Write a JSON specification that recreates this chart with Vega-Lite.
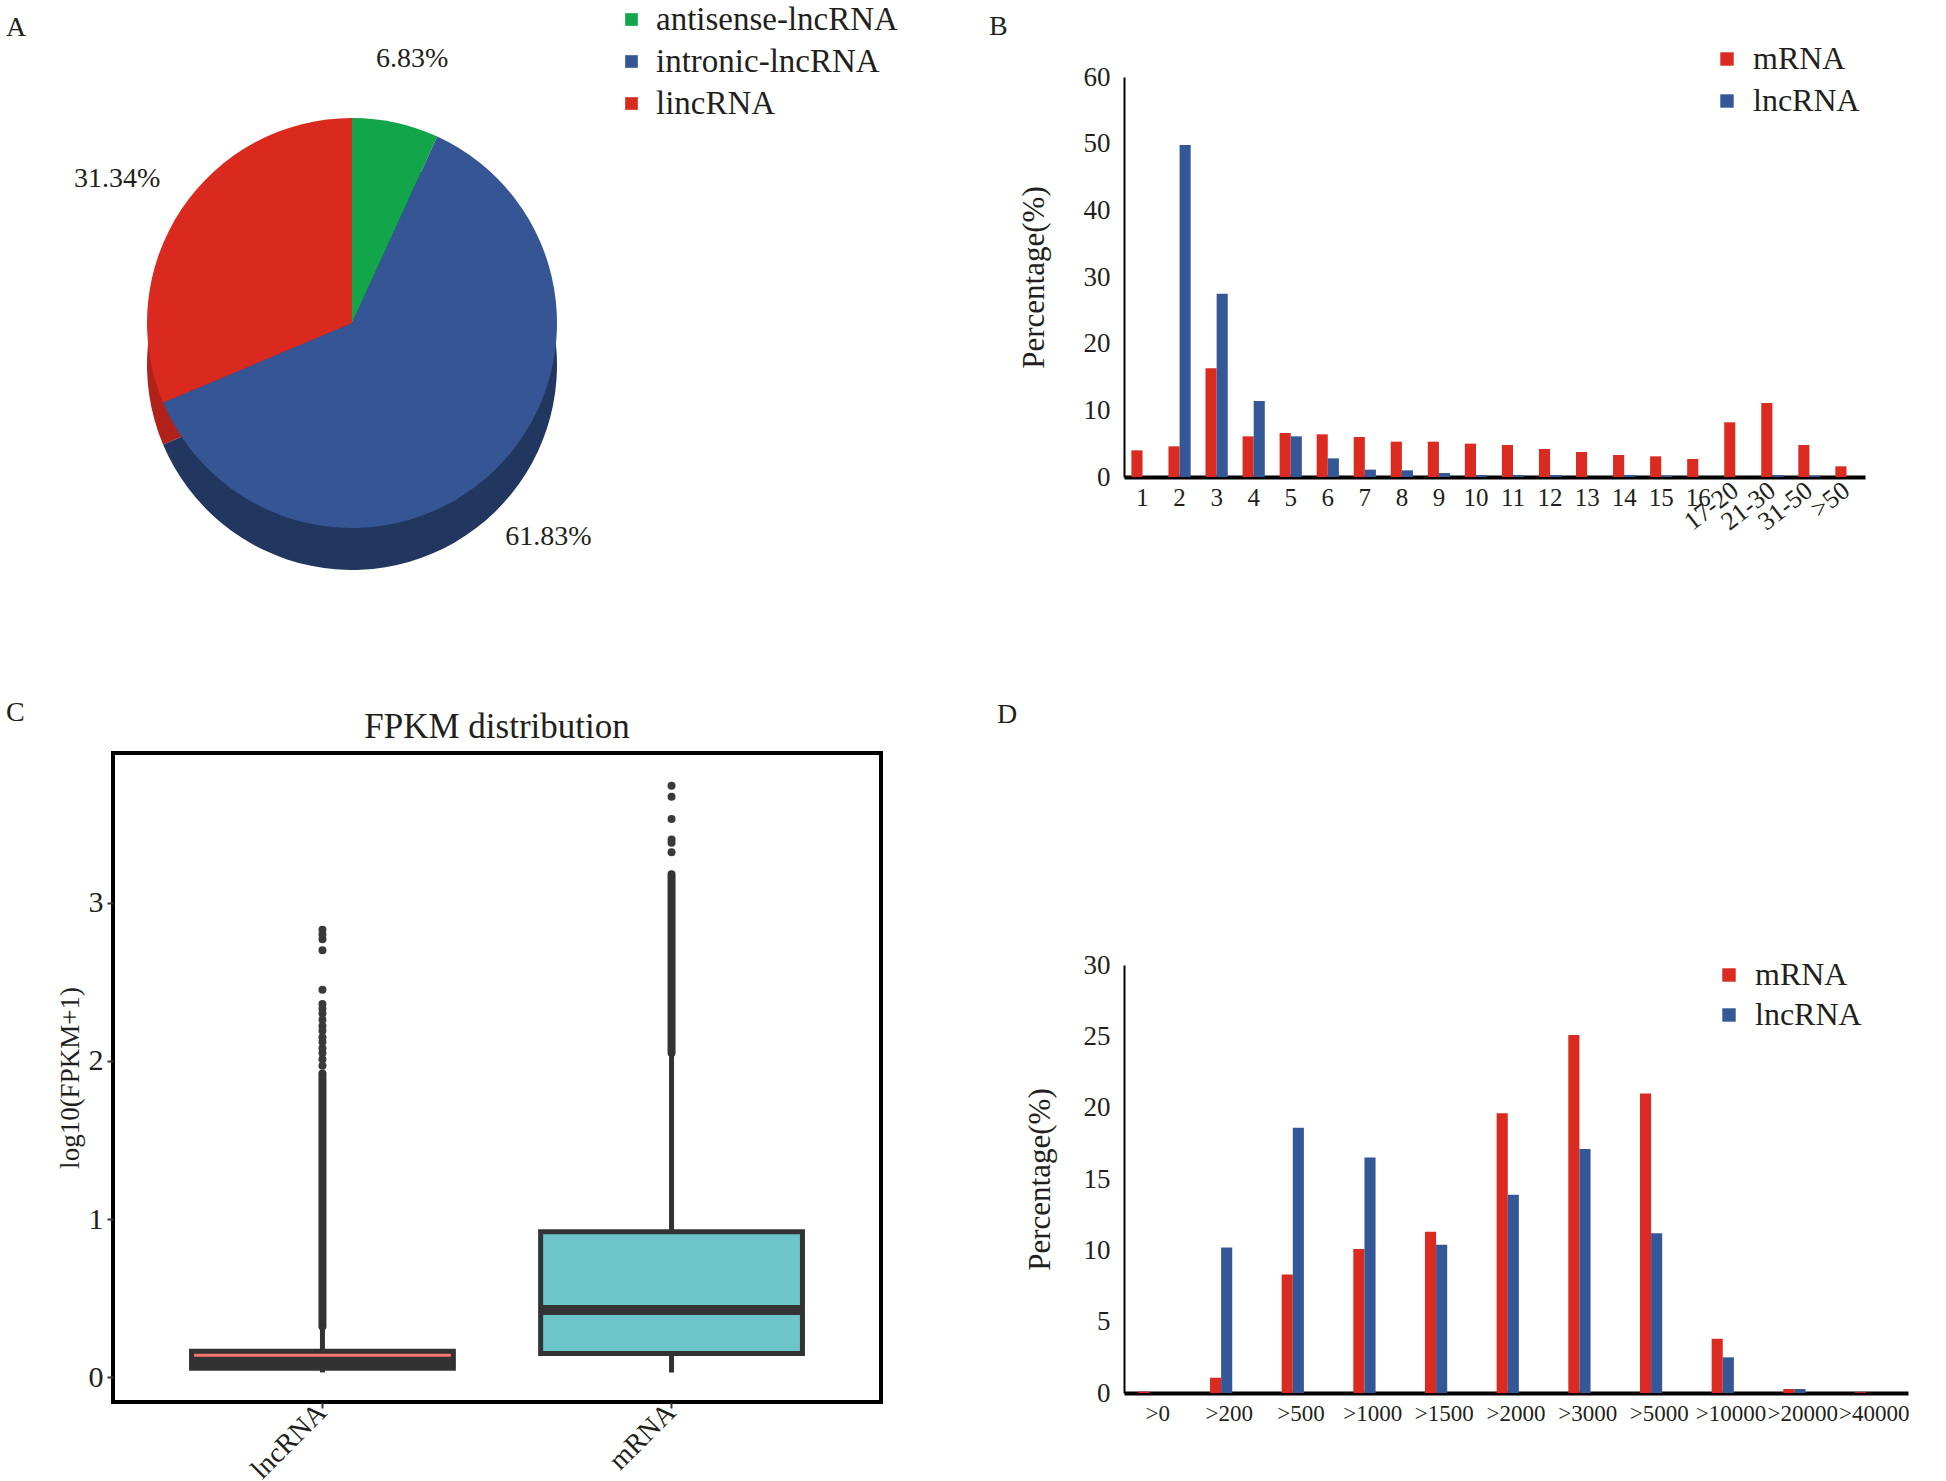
{
  "$schema": "https://vega.github.io/schema/vega-lite/v6.json",
  "background": "white",
  "padding": {"left": 6, "top": 3, "right": 0, "bottom": 0},
  "datasets": {
    "pie": [
      {"category": "antisense-lncRNA", "pct": 6.83, "label": "6.83%"},
      {"category": "intronic-lncRNA", "pct": 61.83, "label": "61.83%"},
      {"category": "lincRNA", "pct": 31.34, "label": "31.34%"}
    ],
    "exon": [
      {"exons": "1", "type": "mRNA", "pct": 4.0}, {"exons": "1", "type": "lncRNA", "pct": 0},
      {"exons": "2", "type": "mRNA", "pct": 4.6}, {"exons": "2", "type": "lncRNA", "pct": 49.8},
      {"exons": "3", "type": "mRNA", "pct": 16.3}, {"exons": "3", "type": "lncRNA", "pct": 27.5},
      {"exons": "4", "type": "mRNA", "pct": 6.1}, {"exons": "4", "type": "lncRNA", "pct": 11.4},
      {"exons": "5", "type": "mRNA", "pct": 6.6}, {"exons": "5", "type": "lncRNA", "pct": 6.1},
      {"exons": "6", "type": "mRNA", "pct": 6.4}, {"exons": "6", "type": "lncRNA", "pct": 2.8},
      {"exons": "7", "type": "mRNA", "pct": 6.0}, {"exons": "7", "type": "lncRNA", "pct": 1.1},
      {"exons": "8", "type": "mRNA", "pct": 5.3}, {"exons": "8", "type": "lncRNA", "pct": 1.0},
      {"exons": "9", "type": "mRNA", "pct": 5.3}, {"exons": "9", "type": "lncRNA", "pct": 0.6},
      {"exons": "10", "type": "mRNA", "pct": 5.0}, {"exons": "10", "type": "lncRNA", "pct": 0.3},
      {"exons": "11", "type": "mRNA", "pct": 4.8}, {"exons": "11", "type": "lncRNA", "pct": 0.3},
      {"exons": "12", "type": "mRNA", "pct": 4.2}, {"exons": "12", "type": "lncRNA", "pct": 0.3},
      {"exons": "13", "type": "mRNA", "pct": 3.75}, {"exons": "13", "type": "lncRNA", "pct": 0},
      {"exons": "14", "type": "mRNA", "pct": 3.3}, {"exons": "14", "type": "lncRNA", "pct": 0.3},
      {"exons": "15", "type": "mRNA", "pct": 3.1}, {"exons": "15", "type": "lncRNA", "pct": 0.2},
      {"exons": "16", "type": "mRNA", "pct": 2.7}, {"exons": "16", "type": "lncRNA", "pct": 0},
      {"exons": "17-20", "type": "mRNA", "pct": 8.2}, {"exons": "17-20", "type": "lncRNA", "pct": 0},
      {"exons": "21-30", "type": "mRNA", "pct": 11.1}, {"exons": "21-30", "type": "lncRNA", "pct": 0.3},
      {"exons": "31-50", "type": "mRNA", "pct": 4.8}, {"exons": "31-50", "type": "lncRNA", "pct": 0.2},
      {"exons": ">50", "type": "mRNA", "pct": 1.6}, {"exons": ">50", "type": "lncRNA", "pct": 0}
    ],
    "length": [
      {"length": ">0", "type": "mRNA", "pct": 0.1}, {"length": ">0", "type": "lncRNA", "pct": 0},
      {"length": ">200", "type": "mRNA", "pct": 1.07}, {"length": ">200", "type": "lncRNA", "pct": 10.2},
      {"length": ">500", "type": "mRNA", "pct": 8.3}, {"length": ">500", "type": "lncRNA", "pct": 18.6},
      {"length": ">1000", "type": "mRNA", "pct": 10.1}, {"length": ">1000", "type": "lncRNA", "pct": 16.5},
      {"length": ">1500", "type": "mRNA", "pct": 11.3}, {"length": ">1500", "type": "lncRNA", "pct": 10.4},
      {"length": ">2000", "type": "mRNA", "pct": 19.6}, {"length": ">2000", "type": "lncRNA", "pct": 13.9},
      {"length": ">3000", "type": "mRNA", "pct": 25.1}, {"length": ">3000", "type": "lncRNA", "pct": 17.1},
      {"length": ">5000", "type": "mRNA", "pct": 21.0}, {"length": ">5000", "type": "lncRNA", "pct": 11.2},
      {"length": ">10000", "type": "mRNA", "pct": 3.8}, {"length": ">10000", "type": "lncRNA", "pct": 2.5},
      {"length": ">20000", "type": "mRNA", "pct": 0.28}, {"length": ">20000", "type": "lncRNA", "pct": 0.28},
      {"length": ">40000", "type": "mRNA", "pct": 0.06}, {"length": ">40000", "type": "lncRNA", "pct": 0}
    ],
    "box": [
      {"type": "lncRNA", "lower": 0.03, "q1": 0.057, "median": 0.097, "q3": 0.164, "upper": 0.32},
      {"type": "mRNA", "lower": 0.03, "q1": 0.15, "median": 0.425, "q3": 0.92, "upper": 2.05}
    ],
    "dense": [
      {"type": "lncRNA", "from": 0.32, "to": 1.92},
      {"type": "mRNA", "from": 2.05, "to": 3.18}
    ],
    "outliers": [
      {"type": "lncRNA", "value": 2.83}, {"type": "lncRNA", "value": 2.8}, {"type": "lncRNA", "value": 2.77},
      {"type": "lncRNA", "value": 2.7}, {"type": "lncRNA", "value": 2.45}, {"type": "lncRNA", "value": 2.36},
      {"type": "lncRNA", "value": 2.33}, {"type": "lncRNA", "value": 2.3}, {"type": "lncRNA", "value": 2.26},
      {"type": "lncRNA", "value": 2.22}, {"type": "lncRNA", "value": 2.19}, {"type": "lncRNA", "value": 2.15},
      {"type": "lncRNA", "value": 2.12}, {"type": "lncRNA", "value": 2.08}, {"type": "lncRNA", "value": 2.05},
      {"type": "lncRNA", "value": 2.01}, {"type": "lncRNA", "value": 1.97},
      {"type": "mRNA", "value": 3.74}, {"type": "mRNA", "value": 3.67}, {"type": "mRNA", "value": 3.53},
      {"type": "mRNA", "value": 3.4}, {"type": "mRNA", "value": 3.38}, {"type": "mRNA", "value": 3.32}
    ]
  },
  "bounds": "flush",
  "spacing": 1011,
  "resolve": {"scale": {"color": "independent", "x": "independent", "y": "independent", "theta": "independent", "fill": "independent"}, "legend": {"color": "independent"}},
  "hconcat": [
    {
      "bounds": "flush",
      "spacing": 184,
      "resolve": {"scale": {"color": "independent", "x": "independent", "y": "independent"}, "legend": {"color": "independent"}},
      "vconcat": [
        {
          "width": 478,
          "height": 492,
          "title": {"text": "A", "anchor": "start", "frame": "group", "dx": -107, "offset": -39, "fontSize": 28},
          "data": {"name": "pie"},
          "resolve": {"scale": {"fill": "independent"}},
          "layer": [
            {
              "mark": {"type": "arc", "radius": 205, "yOffset": 42},
              "encoding": {
                "theta": {"field": "pct", "type": "quantitative", "stack": true},
                "fill": {
                  "field": "category", "type": "nominal",
                  "scale": {"domain": ["antisense-lncRNA", "intronic-lncRNA", "lincRNA"], "range": ["#0C6E33", "#22375F", "#B0221A"]},
                  "legend": null
                },
                "order": {"field": "category", "type": "ordinal", "sort": "ascending"}
              }
            },
            {
              "mark": {"type": "arc", "radius": 205},
              "encoding": {
                "theta": {"field": "pct", "type": "quantitative", "stack": true},
                "color": {
                  "field": "category", "type": "nominal",
                  "scale": {"domain": ["antisense-lncRNA", "intronic-lncRNA", "lincRNA"], "range": ["#13A54A", "#355594", "#DA291F"]},
                  "legend": {"title": null, "orient": "none", "legendX": 502, "legendY": -74, "labelFontSize": 33, "symbolType": "square", "symbolSize": 160, "rowPadding": 8, "labelOffset": 8}
                },
                "order": {"field": "category", "type": "ordinal", "sort": "ascending"}
              }
            },
            {
              "mark": {"type": "text", "radius": 282, "yOffset": 12, "fontSize": 28, "color": "#231f20"},
              "encoding": {
                "theta": {"field": "pct", "type": "quantitative", "stack": true},
                "text": {"field": "label", "type": "nominal"},
                "order": {"field": "category", "type": "ordinal", "sort": "ascending"}
              }
            }
          ]
        },
        {
          "bounds": "flush",
          "title": {"text": "C", "anchor": "start", "frame": "group", "dx": -107, "fontSize": 28, "offset": -19},
          "vconcat": [
            {
              "width": 768,
              "height": 649,
              "title": {"text": "FPKM distribution", "fontSize": 35, "anchor": "middle", "offset": 8},
              "view": {"stroke": "black", "strokeWidth": 4},
              "layer": [
                {
                  "data": {"name": "box"},
                  "mark": {"type": "rule", "strokeWidth": 5, "color": "#333333"},
                  "encoding": {
                    "x": {
                      "field": "type", "type": "nominal",
                      "scale": {"domain": ["lncRNA", "mRNA"], "paddingInner": 0.25, "paddingOuter": 0.225},
                      "axis": {"title": null, "labelAngle": -45, "labelAlign": "right", "labelBaseline": "middle", "labelFontSize": 28, "tickSize": 6, "tickWidth": 2, "tickColor": "#333333", "domain": false, "labelPadding": 0}
                    },
                    "y": {
                      "field": "lower", "type": "quantitative",
                      "scale": {"domain": [-0.157, 3.947], "nice": false, "zero": false},
                      "axis": {"title": "log10(FPKM+1)", "values": [0, 1, 2, 3], "format": "d", "titleFontSize": 27, "titlePadding": 4, "labelFontSize": 30, "tickSize": 6, "tickWidth": 2, "tickColor": "#333333", "domain": false, "labelPadding": 4}
                    },
                    "y2": {"field": "upper"}
                  }
                },
                {
                  "data": {"name": "dense"},
                  "mark": {"type": "rule", "strokeWidth": 8, "color": "#333333", "strokeCap": "round"},
                  "encoding": {
                    "x": {"field": "type", "type": "nominal"},
                    "y": {"field": "from", "type": "quantitative"},
                    "y2": {"field": "to"}
                  }
                },
                {
                  "data": {"name": "outliers"},
                  "mark": {"type": "circle", "size": 64, "color": "#3a3a3a", "opacity": 1},
                  "encoding": {
                    "x": {"field": "type", "type": "nominal"},
                    "y": {"field": "value", "type": "quantitative"}
                  }
                },
                {
                  "data": {"name": "box"},
                  "mark": {"type": "bar", "stroke": "#333333", "strokeWidth": 5},
                  "encoding": {
                    "x": {"field": "type", "type": "nominal"},
                    "y": {"field": "q1", "type": "quantitative"},
                    "y2": {"field": "q3"},
                    "fill": {"field": "type", "type": "nominal", "scale": {"domain": ["lncRNA", "mRNA"], "range": ["#F8766D", "#6CC5C8"]}, "legend": null}
                  }
                },
                {
                  "data": {"name": "box"},
                  "mark": {"type": "tick", "thickness": 10, "size": 262, "color": "#333333", "opacity": 1},
                  "encoding": {
                    "x": {"field": "type", "type": "nominal"},
                    "y": {"field": "median", "type": "quantitative"}
                  }
                }
              ]
            }
          ]
        }
      ]
    },
    {
      "bounds": "flush",
      "spacing": 488,
      "resolve": {"scale": {"color": "independent", "x": "independent", "y": "independent"}, "legend": {"color": "independent"}},
      "vconcat": [
        {
          "width": 741,
          "height": 400,
          "title": {"text": "B", "anchor": "start", "frame": "group", "dx": -135, "offset": 2, "fontSize": 28},
          "data": {"name": "exon"},
          "resolve": {"axis": {"x": "independent"}},
          "layer": [
            {
              "mark": {"type": "bar"},
              "encoding": {
                "x": {
                  "field": "exons", "type": "nominal",
                  "sort": ["1", "2", "3", "4", "5", "6", "7", "8", "9", "10", "11", "12", "13", "14", "15", "16", "17-20", "21-30", "31-50", ">50"],
                  "scale": {"paddingInner": 0.4, "paddingOuter": 0.2},
                  "axis": {
                    "orient": "bottom", "title": null, "ticks": false, "labelAngle": 0, "labelFontSize": 25, "labelPadding": 8,
                    "domainColor": "black", "domainWidth": 4, "labelOverlap": false,
                    "labelExpr": "indexof(['17-20','21-30','31-50','>50'], datum.value) >= 0 ? '' : datum.label"
                  }
                },
                "xOffset": {"field": "type", "type": "nominal", "sort": ["mRNA", "lncRNA"]},
                "y": {
                  "field": "pct", "type": "quantitative",
                  "scale": {"domain": [0, 60], "nice": false},
                  "axis": {"title": "Percentage(%)", "titleFontSize": 31, "titlePadding": 33, "values": [0, 10, 20, 30, 40, 50, 60], "ticks": false, "labelFontSize": 27, "labelPadding": 14, "domainColor": "black", "domainWidth": 2}
                },
                "color": {
                  "field": "type", "type": "nominal",
                  "scale": {"domain": ["mRNA", "lncRNA"], "range": ["#DB2A1F", "#345798"]},
                  "legend": {"title": null, "orient": "none", "legendX": 587, "legendY": -34, "labelFontSize": 32, "symbolType": "square", "symbolSize": 180, "rowPadding": 10, "labelOffset": 10}
                }
              }
            },
            {
              "mark": {"type": "bar", "opacity": 0},
              "encoding": {
                "x": {
                  "field": "exons", "type": "nominal",
                  "sort": ["1", "2", "3", "4", "5", "6", "7", "8", "9", "10", "11", "12", "13", "14", "15", "16", "17-20", "21-30", "31-50", ">50"],
                  "axis": {
                    "orient": "bottom", "title": null, "ticks": false, "domain": false, "labelAngle": -38, "labelAlign": "right", "labelBaseline": "middle",
                    "labelFontSize": 26, "labelPadding": 10, "labelOverlap": false,
                    "labelExpr": "indexof(['17-20','21-30','31-50','>50'], datum.value) >= 0 ? datum.label : ''"
                  }
                },
                "y": {"field": "pct", "type": "quantitative"}
              }
            }
          ]
        },
        {
          "width": 784,
          "height": 428,
          "title": {"text": "D", "anchor": "start", "frame": "group", "dx": -127, "offset": 222, "fontSize": 28},
          "data": {"name": "length"},
          "mark": {"type": "bar"},
          "encoding": {
            "x": {
              "field": "length", "type": "nominal",
              "sort": [">0", ">200", ">500", ">1000", ">1500", ">2000", ">3000", ">5000", ">10000", ">20000", ">40000"],
              "scale": {"paddingInner": 0.46, "paddingOuter": 0.2},
              "axis": {"title": null, "ticks": false, "labelAngle": 0, "labelFontSize": 23, "labelPadding": 9, "domainColor": "black", "domainWidth": 4, "labelOverlap": false, "labelBound": false}
            },
            "xOffset": {"field": "type", "type": "nominal", "sort": ["mRNA", "lncRNA"]},
            "y": {
              "field": "pct", "type": "quantitative",
              "scale": {"domain": [0, 30], "nice": false},
              "axis": {"title": "Percentage(%)", "titleFontSize": 31, "titlePadding": 27, "values": [0, 5, 10, 15, 20, 25, 30], "ticks": false, "labelFontSize": 27, "labelPadding": 14, "domainColor": "black", "domainWidth": 2}
            },
            "color": {
              "field": "type", "type": "nominal",
              "scale": {"domain": ["mRNA", "lncRNA"], "range": ["#DB2A1F", "#345798"]},
              "legend": {"title": null, "orient": "none", "legendX": 589, "legendY": -6, "labelFontSize": 32, "symbolType": "square", "symbolSize": 180, "rowPadding": 8, "labelOffset": 10}
            }
          }
        }
      ]
    }
  ],
  "config": {
    "font": "Liberation Serif",
    "view": {"stroke": null},
    "axis": {"labelFont": "Liberation Serif", "titleFont": "Liberation Serif", "titleFontWeight": "normal", "labelColor": "#231f20", "titleColor": "#231f20", "grid": false},
    "legend": {"labelFont": "Liberation Serif", "labelColor": "#231f20", "labelLimit": 400},
    "title": {"font": "Liberation Serif", "fontWeight": "normal", "color": "#231f20"},
    "text": {"font": "Liberation Serif"}
  }
}
